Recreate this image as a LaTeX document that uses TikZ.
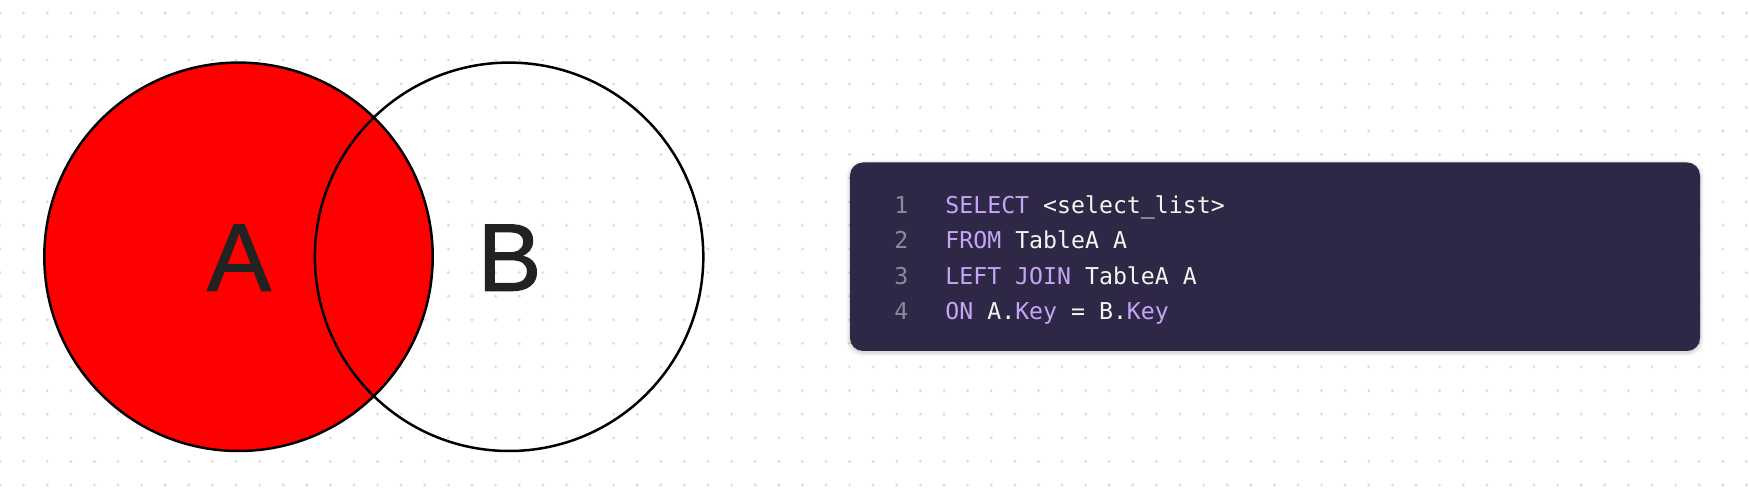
\documentclass[tikz,border=0pt]{standalone}
\usepackage{fontspec}
\setmainfont{Liberation Sans}
\newfontfamily\labfont[FakeBold=1.2]{Liberation Sans}
\newfontfamily\codefont{DejaVu Sans Mono}
\usetikzlibrary{calc}
\definecolor{dotc}{HTML}{DDDDDD}
\definecolor{vred}{HTML}{FF0000}
\definecolor{labc}{HTML}{222222}
\definecolor{boxbg}{HTML}{2E2846}
\definecolor{kwc}{HTML}{C4A5F5}
\definecolor{numc}{HTML}{8E8A9C}
\definecolor{codec}{HTML}{F5F5F5}
\newcommand{\kw}[1]{\textcolor{kwc}{#1}}
\tikzset{
  venn/.style={draw=black, line width=1.25pt},
  biglabel/.style={anchor=base, inner sep=0pt, text=labc, font=\labfont\fontsize{48}{48}\selectfont},
  lnum/.style={anchor=base west, inner sep=0pt, text=numc, font=\codefont\fontsize{11.6}{12}\selectfont},
  codeline/.style={anchor=base west, inner sep=0pt, text=codec, font=\codefont\fontsize{11.6}{12}\selectfont},
}
\begin{document}
\begin{tikzpicture}[x=0.5pt,y=-0.5pt]
\useasboundingbox (0,0) rectangle (1749,491);
\fill[white] (0,0) rectangle (1749,491);
% dotted background
\foreach \i in {0,...,74}{
  \foreach \j in {0,...,20}{
    \fill[dotc] (\i*23.6, 13+\j*23.6) circle (0.8pt);
  }
}
% venn circles
\coordinate (ca) at (238.5,256.8);
\coordinate (cb) at (509.1,256.8);
\fill[vred] (ca) circle (97.1pt);
\draw[venn] (ca) circle (97.1pt);
\draw[venn] (cb) circle (97.1pt);
\node[biglabel] (la) at (239,290.7) {A};
\node[biglabel] (lb) at (509.5,290.7) {B};
% code box shadow
\foreach \k/\o in {1/0.05,2/0.04,3/0.03,4/0.02}{
  \fill[black, opacity=\o, rounded corners=8pt] (850-\k,162.5-\k+1.5) rectangle (1700+\k,351+\k+1.5);
}
\fill[boxbg, rounded corners=6.5pt] (850,162.5) rectangle (1700,351);
% code
\node[lnum] (n1) at (894,213.3) {1};
\node[lnum] (n2) at (894,248.8) {2};
\node[lnum] (n3) at (894,284.3) {3};
\node[lnum] (n4) at (894,319.8) {4};
\node[codeline] (c1) at (945,213.3) {\kw{SELECT} <select\_list>};
\node[codeline] (c2) at (945,248.8) {\kw{FROM} TableA A};
\node[codeline] (c3) at (945,284.3) {\kw{LEFT JOIN} TableA A};
\node[codeline] (c4) at (945,319.8) {\kw{ON} A.\kw{Key} = B.\kw{Key}};
\end{tikzpicture}
\end{document}
